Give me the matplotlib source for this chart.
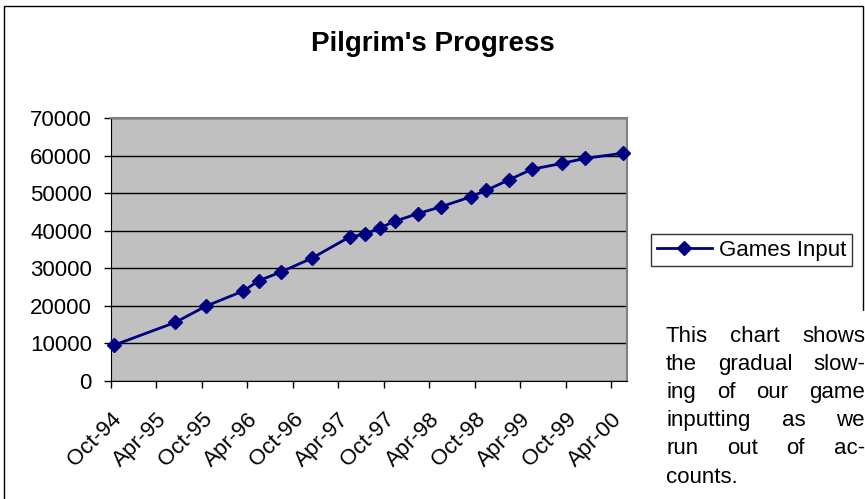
import numpy as np
import pandas as pd
import matplotlib
matplotlib.use('Agg')
import matplotlib.pyplot as plt
import matplotlib.transforms as mtransforms
from matplotlib.patches import Rectangle

plt.rcParams['font.family'] = ['Liberation Sans', 'DejaVu Sans']

# month of each reading and running total of games input
months = ['1994-10', '1995-06', '1995-10', '1996-03', '1996-05', '1996-08',
          '1996-12', '1997-05', '1997-07', '1997-09', '1997-11', '1998-02',
          '1998-05', '1998-09', '1998-11', '1999-02', '1999-05', '1999-09',
          '1999-12', '2000-05']
games = [9600, 15600, 19900, 24000, 26700, 29100, 32700, 38400, 39100, 40800,
         42600, 44600, 46400, 49100, 50800, 53600, 56400, 58000, 59300, 60700]
tick_labels = ['Oct-94', 'Apr-95', 'Oct-95', 'Apr-96', 'Oct-96', 'Apr-97',
               'Oct-97', 'Apr-98', 'Oct-98', 'Apr-99', 'Oct-99', 'Apr-00']
note_lines = ['This chart shows', 'the gradual slow-', 'ing of our game',
              'inputting as we', 'run out of ac-', 'counts.']

per = pd.PeriodIndex(months, freq='M')
start = pd.Period('1994-10', freq='M')
x = np.array([(p - start).n for p in per]) + 0.5

W, H = 865, 499
fig = plt.figure(figsize=(W / 100, H / 100), dpi=100)

# chart border (bottom edge falls outside the picture)
fig.patches.append(Rectangle((4 / W, -20 / H), 858.7 / W, (H + 20 - 6) / H,
                             transform=fig.transFigure, fill=False,
                             edgecolor='black', lw=1))

ax = fig.add_axes([110.7 / W, 118 / H, 515.8 / W, 262.7 / H])
ax.set_facecolor('#C0C0C0')
ax.plot(x, games, color='#000080', lw=2, marker='D', ms=7,
        label='Games Input', zorder=3, clip_on=False)
ax.set_xlim(0, 68)
ax.set_ylim(0, 70000)
ax.set_yticks(np.arange(0, 70001, 10000))
ax.set_xticks(np.arange(0, 67, 6))
ax.set_xticklabels(tick_labels, rotation=45, ha='right', va='top',
                   rotation_mode='anchor')
shift = mtransforms.ScaledTranslation(-11 / 100, 0, fig.dpi_scale_trans)
for lab in ax.get_xticklabels():
    lab.set_transform(lab.get_transform() + shift)
ax.tick_params(axis='both', labelsize=16, direction='out', length=5,
               width=1, color='black')
ax.tick_params(axis='x', pad=15)
ax.tick_params(axis='y', pad=8.5)
ax.grid(axis='y', color='black', lw=1)
ax.set_axisbelow(True)
for s in ['top', 'right']:
    ax.spines[s].set_color('#808080')
    ax.spines[s].set_linewidth(1.5)
for s in ['left', 'bottom']:
    ax.spines[s].set_color('black')

fig.text(433 / W, 1 - 51 / H, "Pilgrim's Progress", ha='center',
         va='baseline', fontsize=20, fontweight='bold')

leg = fig.legend(loc='center', bbox_to_anchor=(751.5 / W, 1 - 250.4 / H),
                 fontsize=16, frameon=True, fancybox=False, handlelength=2.5,
                 borderpad=0.25, handletextpad=0.3)
leg.get_frame().set_edgecolor('black')
leg.get_frame().set_linewidth(1)

# white text box over the border corner
fig.patches.append(Rectangle((650 / W, 0), 215 / W, (H - 311) / H,
                             transform=fig.transFigure, facecolor='white',
                             edgecolor='none', zorder=5))

# justified note text
renderer = fig.canvas.get_renderer()
left, right = 666, 865
y0, step = 341.7, 28.2
fs = 16
for i, line in enumerate(note_lines):
    yy = 1 - (y0 + i * step) / H
    words = line.split()
    if i == len(note_lines) - 1 or len(words) == 1:
        fig.text(left / W, yy, line, fontsize=fs, va='baseline', ha='left',
                 zorder=6)
        continue
    arts = [fig.text(0, yy, w, fontsize=fs, va='baseline', ha='left',
                     zorder=6) for w in words]
    widths = [a.get_window_extent(renderer).width for a in arts]
    gap = (right - left - sum(widths)) / (len(words) - 1)
    pos = left
    for a, w in zip(arts, widths):
        a.set_x(pos / W)
        pos += w + gap

fig.savefig('out.png', dpi=100)
